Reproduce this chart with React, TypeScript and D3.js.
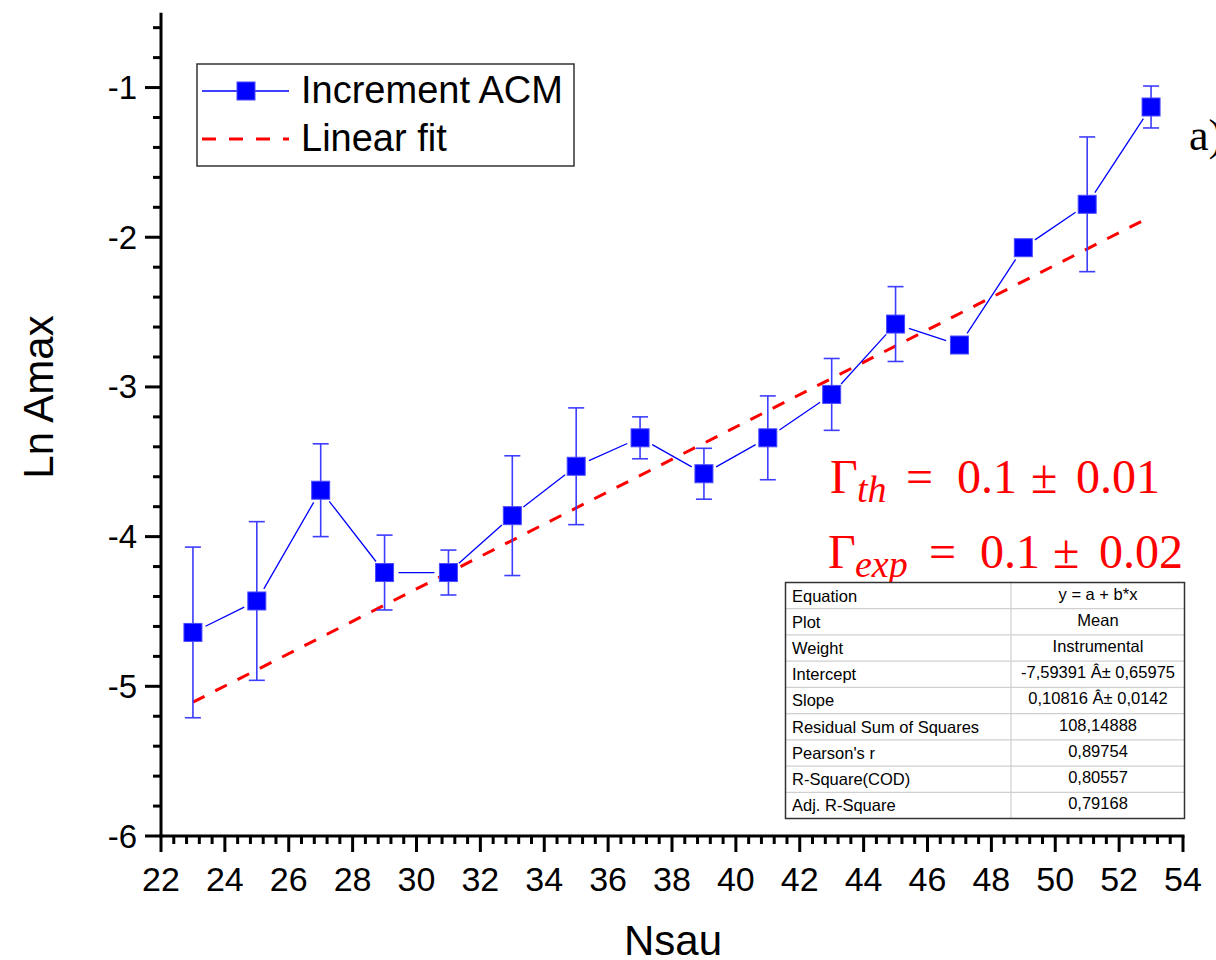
import React, { useEffect } from "react";
import * as d3 from "d3";

// ---- data ----
const nsau = [23, 25, 27, 29, 31, 33, 35, 37, 39, 41, 43, 45, 47, 49, 51, 53];
const lnAmax = [-4.64, -4.43, -3.69, -4.24, -4.24, -3.86, -3.53, -3.34, -3.58, -3.34, -3.05, -2.58, -2.72, -2.07, -1.78, -1.13];
const lnAmaxErr = [0.57, 0.53, 0.31, 0.25, 0.15, 0.4, 0.39, 0.14, 0.17, 0.28, 0.24, 0.25, 0, 0, 0.45, 0.14];
const fitIntercept = -7.59391;
const fitSlope = 0.10816;
const fitRange = [23, 53];
const xTicks = [22, 24, 26, 28, 30, 32, 34, 36, 38, 40, 42, 44, 46, 48, 50, 52, 54];
const yTicks = [-6, -5, -4, -3, -2, -1];
const tableLabels = ["Equation", "Plot", "Weight", "Intercept", "Slope", "Residual Sum of Squares", "Pearson's r", "R-Square(COD)", "Adj. R-Square"];
const tableValues = ["y = a + b*x", "Mean", "Instrumental", "-7,59391 Â± 0,65975", "0,10816 Â± 0,0142", "108,14888", "0,89754", "0,80557", "0,79168"];
const seriesName = "Increment ACM";
const fitName = "Linear fit";

const SANS = "'Liberation Sans', Arial, sans-serif";
const SERIF = "'Liberation Serif', 'Times New Roman', serif";
const BLUE = "#0000ff";
const RED = "#ff0000";

export default function App() {
  useEffect(() => {
    document.body.style.margin = "0";
  }, []);

  const W = 1216, H = 960;
  const x = d3.scaleLinear().domain([22, 54]).range([161, 1183]);
  const y = d3.scaleLinear().domain([-6, -0.5]).range([836, 12.7]);

  const pts = nsau.map((n, i) => [x(n), y(lnAmax[i])] as [number, number]);
  const gap = 14;
  const segs = pts.slice(1).map((p1, i) => {
    const p0 = pts[i];
    const dx = p1[0] - p0[0], dy = p1[1] - p0[1];
    const L = Math.hypot(dx, dy);
    const ux = dx / L, uy = dy / L;
    return [p0[0] + ux * gap, p0[1] + uy * gap, p1[0] - ux * gap, p1[1] - uy * gap];
  });

  const fitLine = d3.line<number>().x((v) => x(v)).y((v) => y(fitIntercept + fitSlope * v));

  const xMinor = d3.range(0, 81).filter((i) => i % 5 !== 0).map((i) => 22 + i * 0.4);
  const yMinor = d3.range(0, 28).filter((i) => i % 5 !== 0).map((i) => -6 + i * 0.2);

  const ms = 18;
  const cap = 8;

  // table geometry
  const tL = 785.5, tR = 1184.5, tT = 582.5, tB = 818.5, tC = 1011;
  const rowH = (tB - tT) / tableLabels.length;

  return (
    <svg width={W} height={H} style={{ display: "block", background: "#fff" }}>
      {/* fit line */}
      <path d={fitLine(fitRange) || ""} fill="none" stroke={RED} strokeWidth={3} strokeDasharray="13 12" />

      {/* error bars */}
      {nsau.map((n, i) =>
        lnAmaxErr[i] > 0 ? (
          <g key={"e" + i} stroke="#3d3dff" strokeWidth={1.6}>
            <line x1={x(n)} x2={x(n)} y1={y(lnAmax[i] + lnAmaxErr[i])} y2={y(lnAmax[i] - lnAmaxErr[i])} />
            <line x1={x(n) - cap} x2={x(n) + cap} y1={y(lnAmax[i] + lnAmaxErr[i])} y2={y(lnAmax[i] + lnAmaxErr[i])} />
            <line x1={x(n) - cap} x2={x(n) + cap} y1={y(lnAmax[i] - lnAmaxErr[i])} y2={y(lnAmax[i] - lnAmaxErr[i])} />
          </g>
        ) : null
      )}

      {/* connecting segments */}
      {segs.map((s, i) => (
        <line key={"s" + i} x1={s[0]} y1={s[1]} x2={s[2]} y2={s[3]} stroke={BLUE} strokeWidth={1.3} />
      ))}

      {/* markers */}
      {pts.map((p, i) => (
        <rect key={"m" + i} x={p[0] - ms / 2} y={p[1] - ms / 2} width={ms} height={ms} fill={BLUE} stroke="#4a4aff" strokeWidth={1} />
      ))}

      {/* axes */}
      <line x1={x(22)} x2={x(22)} y1={y(-0.5)} y2={y(-6) + 1.5} stroke="#000" strokeWidth={3} />
      <line x1={x(22) - 1.5} x2={x(54) + 1.5} y1={y(-6)} y2={y(-6)} stroke="#000" strokeWidth={3} />
      {yTicks.map((v) => (
        <g key={"yt" + v}>
          <line x1={x(22) - 16} x2={x(22)} y1={y(v)} y2={y(v)} stroke="#000" strokeWidth={3} />
          <text x={137} y={y(v)} dy="0.35em" textAnchor="end" fontFamily={SANS} fontSize={33} fill="#000">
            {String(v)}
          </text>
        </g>
      ))}
      {yMinor.map((v) => (
        <line key={"ym" + v} x1={x(22) - 8} x2={x(22)} y1={y(v)} y2={y(v)} stroke="#000" strokeWidth={3} />
      ))}
      {xTicks.map((v) => (
        <g key={"xt" + v}>
          <line x1={x(v)} x2={x(v)} y1={y(-6)} y2={y(-6) + 16} stroke="#000" strokeWidth={3} />
          <text x={x(v)} y={891} textAnchor="middle" fontFamily={SANS} fontSize={34} fill="#000">
            {String(v)}
          </text>
        </g>
      ))}
      {xMinor.map((v) => (
        <line key={"xm" + v} x1={x(v)} x2={x(v)} y1={y(-6)} y2={y(-6) + 8} stroke="#000" strokeWidth={3} />
      ))}

      {/* axis titles */}
      <text transform="translate(53,397) rotate(-90)" textAnchor="middle" fontFamily={SANS} fontSize={42} fill="#000">
        Ln Amax
      </text>
      <text x={673} y={955} textAnchor="middle" fontFamily={SANS} fontSize={42} fill="#000">
        Nsau
      </text>

      {/* legend */}
      <rect x={197} y={64} width={377} height={102} fill="#fff" stroke="#333" strokeWidth={1.5} />
      <line x1={202} x2={237} y1={91} y2={91} stroke={BLUE} strokeWidth={1.3} />
      <line x1={255} x2={289} y1={91} y2={91} stroke={BLUE} strokeWidth={1.3} />
      <rect x={246 - ms / 2} y={91 - ms / 2} width={ms} height={ms} fill={BLUE} stroke="#4a4aff" strokeWidth={1} />
      <text x={301} y={103} fontFamily={SANS} fontSize={38} fill="#000">{seriesName}</text>
      <line x1={202} x2={289} y1={139} y2={139} stroke={RED} strokeWidth={3} strokeDasharray="14 13" />
      <text x={301} y={151} fontFamily={SANS} fontSize={38} fill="#000">{fitName}</text>

      {/* a) label */}
      <text x={1189} y={150} fontFamily={SERIF} fontSize={44} fill="#000">a)</text>

      {/* gamma annotations */}
      <g fontFamily={SERIF} fill={RED}>
        <text x={830} y={493} fontSize={48}>Γ</text>
        <text x={857} y={502} fontSize={38} fontStyle="italic">th</text>
        <text x={906} y={493} fontSize={48}>=</text>
        <text x={957} y={493} fontSize={48}>0.1</text>
        <text x={1031} y={493} fontSize={48}>±</text>
        <text x={1076} y={493} fontSize={48}>0.01</text>

        <text x={828} y={568} fontSize={48}>Γ</text>
        <text x={855} y={577} fontSize={38} fontStyle="italic">exp</text>
        <text x={929} y={568} fontSize={48}>=</text>
        <text x={980} y={568} fontSize={48}>0.1</text>
        <text x={1053} y={568} fontSize={48}>±</text>
        <text x={1099} y={568} fontSize={48}>0.02</text>
      </g>

      {/* fit table */}
      <rect x={tL} y={tT} width={tR - tL} height={tB - tT} fill="#fff" />
      {tableLabels.slice(1).map((_, i) => (
        <line key={"tr" + i} x1={tL} x2={tR} y1={tT + rowH * (i + 1)} y2={tT + rowH * (i + 1)} stroke="#d0d0d0" strokeWidth={1.2} />
      ))}
      <line x1={tC} x2={tC} y1={tT} y2={tB} stroke="#d0d0d0" strokeWidth={1.2} />
      <rect x={tL} y={tT} width={tR - tL} height={tB - tT} fill="none" stroke="#333" strokeWidth={1.5} />
      {tableLabels.map((t, i) => (
        <text key={"tl" + i} x={792} y={tT + rowH * i + 19} fontFamily={SANS} fontSize={16.5} fill="#000">{t}</text>
      ))}
      {tableValues.map((t, i) => (
        <text key={"tv" + i} x={1098} y={tT + rowH * i + 17} textAnchor="middle" fontFamily={SANS} fontSize={16.5} fill="#000">{t}</text>
      ))}
    </svg>
  );
}
